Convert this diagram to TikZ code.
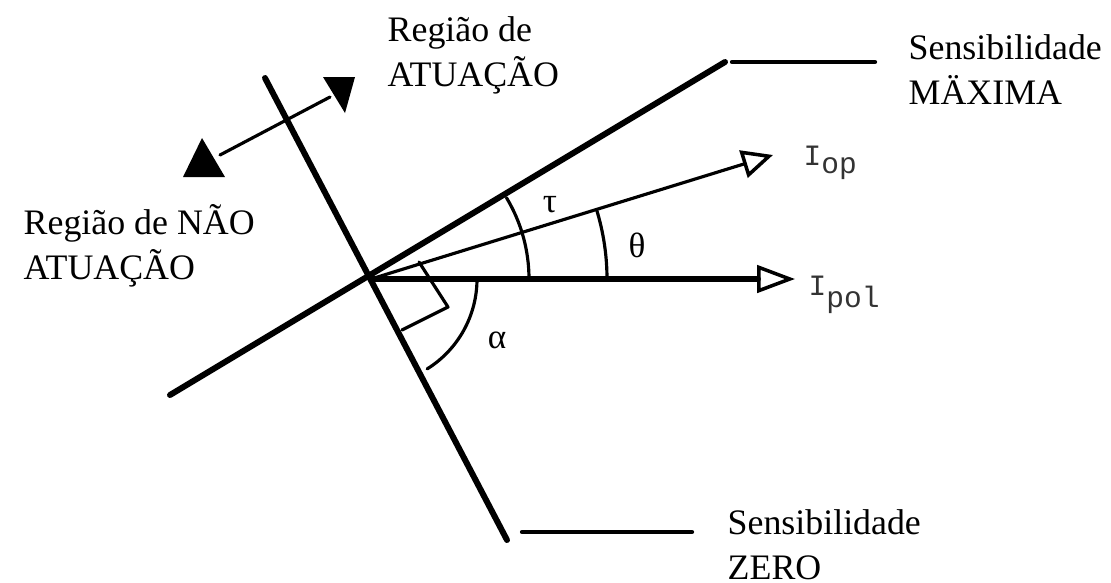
\documentclass[tikz,border=0pt]{standalone}
\usepackage{fontspec}
\setmainfont{Liberation Serif}
\newfontfamily\monolbl{Liberation Mono}
\usepackage{tikz}
\usetikzlibrary{calc}
\usetikzlibrary{arrows.meta}

\tikzset{
  heavyline/.style={line width=1.7pt},
  lightline/.style={line width=0.9pt},
  leaderline/.style={line width=1.2pt},
  regionlbl/.style={anchor=north west, inner sep=0pt, align=left,
    font=\fontsize{10.2}{12.8}\selectfont},
  currentlbl/.style={anchor=base west, inner sep=0pt,
    font=\fontsize{8.4}{10}\selectfont\monolbl, text=black!80},
  greeklbl/.style={inner sep=0pt, font=\fontsize{10}{12}\selectfont},
}

\begin{document}
\begin{tikzpicture}[>=Latex, line cap=round, line join=round]
  \useasboundingbox (0,0) rectangle (11.11,-5.82);

  %--------------------------
  % Origin and the two boundary lines
  %--------------------------
  \coordinate (O) at (3.71,-2.79);
  \coordinate (zeroTop) at (2.65,-0.78);
  \coordinate (zeroBot) at (5.07,-5.40);
  \coordinate (maxBot) at (1.70,-3.95);
  \coordinate (maxTop) at (7.25,-0.62);

  \draw[heavyline] (zeroTop) -- (zeroBot);
  \draw[heavyline] (maxBot) -- (maxTop);

  % Currents
  \coordinate (polTip) at (7.95,-2.79);
  \coordinate (opTip) at (7.73,-1.55);
  \draw[heavyline, -{Triangle[open, line width=1pt, length=10.8pt, width=7.8pt]}] (O) -- (polTip);
  \draw[lightline, -{Triangle[open, line width=1pt, length=8.8pt, width=8pt]}] (O) -- (opTip);

  \node[currentlbl] (ipol) at (8.08,-2.95) {I\raisebox{-3.6pt}{pol}};
  \node[currentlbl] (iop) at (8.03,-1.65) {I\raisebox{-2.4pt}{op}};

  %--------------------------
  % Angles
  %--------------------------
  \draw[lightline] (O) ++(0:1.58) arc (0:31:1.58);
  \draw[lightline] (O) ++(0:2.36) arc (0:16.8:2.36);
  \draw[lightline] (O) ++(0:1.06) arc (0:-58:1.06);
  \draw[lightline] (4.19,-2.62) -- (4.48,-3.07) -- (4.02,-3.30);

  \node[greeklbl] (tau) at (5.50,-2.05) {τ};
  \node[greeklbl] (theta) at (6.37,-2.45) {θ};
  \node[greeklbl] (alpha) at (4.97,-3.40) {α};

  %--------------------------
  % Region arrow
  %--------------------------
  \coordinate (regA) at (2.20,-1.55);
  \coordinate (regB) at (3.30,-0.97);
  \draw[lightline] (regA) -- (regB);
  \fill (1.83,-1.77) -- (2.25,-1.77) -- (2.02,-1.38) -- cycle;
  \fill (3.23,-0.77) -- (3.55,-0.77) -- (3.45,-1.13) -- cycle;

  \node[regionlbl] (act) at (3.87,-0.155) {Região de\\ATUAÇÃO};
  \node[regionlbl] (noact) at (0.23,-2.035) {Região de NÃO\\ATUAÇÃO};

  %--------------------------
  % Sensitivity labels
  %--------------------------
  \coordinate (maxA) at (7.32,-0.62);
  \coordinate (maxB) at (8.75,-0.62);
  \draw[leaderline] (maxA) -- (maxB);
  \node[regionlbl] (senmax) at (9.08,-0.335) {Sensibilidade\\MÄXIMA};

  \coordinate (zeroA) at (5.22,-5.32);
  \coordinate (zeroB) at (6.92,-5.32);
  \draw[leaderline] (zeroA) -- (zeroB);
  \node[regionlbl] (senzero) at (7.27,-5.085) {Sensibilidade\\ZERO};

\end{tikzpicture}
\end{document}
